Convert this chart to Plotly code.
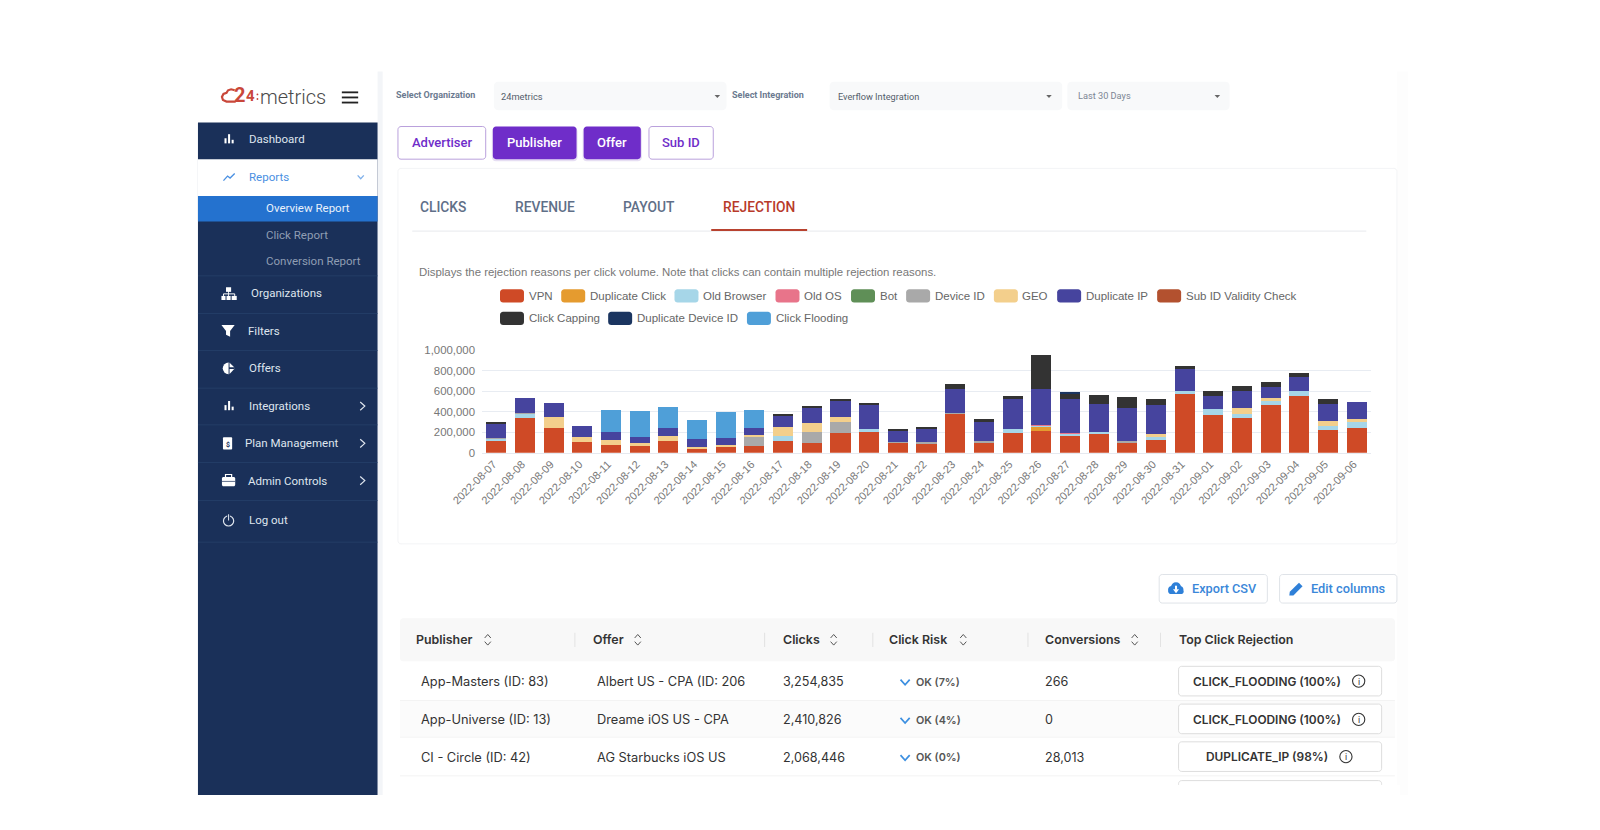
import plotly.graph_objects as go

# ---------- chart data ----------
dates = ["2022-08-%02d" % d for d in range(7, 32)] + ["2022-09-%02d" % d for d in range(1, 7)]
vpn = [120e3,339e3,238e3,104e3,72e3,62e3,117e3,39e3,52e3,62e3,114e3,98e3,189e3,202e3,98e3,91e3,378e3,98e3,189e3,215e3,166e3,179e3,98e3,120e3,570e3,371e3,335e3,463e3,550e3,218e3,241e3]
dup_click = [0,0,0,0,0,0,0,0,0,0,0,0,0,0,0,0,0,0,0,33e3,0,0,0,0,0,0,0,0,0,0,0]
old_browser = [18e3,39e3,0,0,0,0,0,0,0,0,46e3,0,0,26e3,0,0,0,0,39e3,13e3,15e3,23e3,0,29e3,36e3,59e3,46e3,42e3,52e3,42e3,62e3]
old_os = [0,0,0,0,0,0,0,0,0,0,0,0,0,0,0,0,0,0,0,10e3,14e3,0,0,0,0,0,0,0,0,0,0]
bot = [0]*31
device_id = [8e3,6e3,0,0,0,0,0,0,0,94e3,0,101e3,111e3,0,10e3,16e3,10e3,16e3,0,0,0,0,16e3,0,0,0,0,0,0,0,0]
geo = [0,0,107e3,49e3,52e3,29e3,42e3,20e3,23e3,20e3,91e3,91e3,49e3,0,0,0,0,0,0,0,0,0,0,29e3,0,0,52e3,29e3,0,52e3,29e3]
dup_ip = [137e3,147e3,140e3,107e3,81e3,65e3,78e3,75e3,72e3,62e3,111e3,150e3,153e3,235e3,107e3,124e3,231e3,182e3,293e3,349e3,326e3,270e3,322e3,283e3,208e3,124e3,169e3,104e3,134e3,166e3,160e3]
sub_id = [0]*31
capping = [16e3,0,0,0,0,0,0,0,0,0,20e3,13e3,13e3,23e3,16e3,16e3,49e3,36e3,33e3,336e3,55e3,88e3,104e3,59e3,36e3,46e3,46e3,49e3,42e3,42e3,0]
dup_device = [0,0,0,0,0,0,0,0,0,0,0,0,0,0,0,0,0,0,0,0,13e3,0,0,0,0,0,0,0,0,0,0]
flooding = [0,0,0,0,212e3,248e3,212e3,189e3,248e3,176e3,0,0,0,0,0,0,0,0,0,0,0,0,0,0,0,0,0,0,0,0,0]

series_names = ["VPN","Duplicate Click","Old Browser","Old OS","Bot","Device ID","GEO","Duplicate IP","Sub ID Validity Check","Click Capping","Duplicate Device ID","Click Flooding"]
series_vals = [vpn,dup_click,old_browser,old_os,bot,device_id,geo,dup_ip,sub_id,capping,dup_device,flooding]
series_cols = ["#cf4a26","#e59b2f","#a6d6e8","#e8748a","#5f8f57","#a9a9a9","#f3cf8c","#46449e","#b3512f","#333333","#1b3560","#4f9fd8"]

# ---------- interface text ----------
side_items = [("Dashboard",244,136.5),("Organizations",246,287.5),("Filters",243,324),("Offers",244,361),("Integrations",244,398),("Plan Management",240,434.5),("Admin Controls",243,471),("Log out",244,510)]
buttons = [("Advertiser",390,476,False),("Publisher",483,565,True),("Offer",572,628,True),("Sub ID",636,699,False)]
tabs = [("CLICKS",434,"#5f6f88"),("REVENUE",534,"#5f6f88"),("PAYOUT",636,"#5f6f88"),("REJECTION",744,"#b83a2a")]
headers = [("Publisher",408,478),("Offer",581,625),("Clicks",767,817),("Click Risk",871,944),("Conversions",1024,1112),("Top Click Rejection",1155,None)]
publishers = ["App-Masters (ID: 83)","App-Universe (ID: 13)","CI - Circle (ID: 42)"]
offers = ["Albert US - CPA (ID: 206","Dreame iOS US - CPA","AG Starbucks iOS US"]
clicks = ["3,254,835","2,410,826","2,068,446"]
risks = ["OK (7%)","OK (4%)","OK (0%)"]
conversions = ["266","0","28,013"]
rejections = ["CLICK_FLOODING (100%)","CLICK_FLOODING (100%)","DUPLICATE_IP (98%)"]

S = 1600/1568
W, H = 1600, 830
def X(x): return x*S/W
def Y(y): return 1-y*S/H

shapes, annos = [], []
NAVY = "#1a3059"

def rect(x0,y0,x1,y1,fill=None,line=None,lw=1,r=0,layer="below"):
    d = dict(type="path",xref="paper",yref="paper",layer=layer,
             fillcolor=fill or "rgba(0,0,0,0)",line=dict(color=line or "rgba(0,0,0,0)",width=lw if line else 0))
    if r:
        c = 0.45*r
        d["path"] = (f"M{X(x0+r)},{Y(y0)} L{X(x1-r)},{Y(y0)} C{X(x1-c)},{Y(y0)} {X(x1)},{Y(y0+c)} {X(x1)},{Y(y0+r)} "
                     f"L{X(x1)},{Y(y1-r)} C{X(x1)},{Y(y1-c)} {X(x1-c)},{Y(y1)} {X(x1-r)},{Y(y1)} "
                     f"L{X(x0+r)},{Y(y1)} C{X(x0+c)},{Y(y1)} {X(x0)},{Y(y1-c)} {X(x0)},{Y(y1-r)} "
                     f"L{X(x0)},{Y(y0+r)} C{X(x0)},{Y(y0+c)} {X(x0+c)},{Y(y0)} {X(x0+r)},{Y(y0)} Z")
    else:
        d["path"] = f"M{X(x0)},{Y(y0)} L{X(x1)},{Y(y0)} L{X(x1)},{Y(y1)} L{X(x0)},{Y(y1)} Z"
    shapes.append(d)

def poly(pts,fill=None,line=None,lw=1.5,close=False,layer="below"):
    p = "M"+" L".join(f"{X(a)},{Y(b)}" for a,b in pts)+(" Z" if close else "")
    shapes.append(dict(type="path",path=p,xref="paper",yref="paper",layer=layer,
                       fillcolor=fill or "rgba(0,0,0,0)",line=dict(color=line or "rgba(0,0,0,0)",width=lw if line else 0)))

def circ(cx,cy,r,fill=None,line=None,lw=1.2,layer="below"):
    shapes.append(dict(type="circle",xref="paper",yref="paper",layer=layer,x0=X(cx-r),x1=X(cx+r),y0=Y(cy+r),y1=Y(cy-r),
                       fillcolor=fill or "rgba(0,0,0,0)",line=dict(color=line or "rgba(0,0,0,0)",width=lw if line else 0)))

def text(x,y,s,size=12,color="#333",anchor="left",font="Roboto",weight="normal"):
    annos.append(dict(x=X(x),y=Y(y),xref="paper",yref="paper",text=s,showarrow=False,xanchor=anchor,yanchor="middle",
                      font=dict(family=font,size=size,color=color,weight=weight),borderpad=0,borderwidth=0))

def chevron(cx,cy,w,h,color,lw=1.3,up=False):
    sgn = -1 if up else 1
    poly([(cx-w,cy-h*sgn),(cx,cy+h*sgn),(cx+w,cy-h*sgn)],line=color,lw=lw)

def tri(cx,cy,w,h,color):
    poly([(cx-w,cy-h),(cx+w,cy-h),(cx,cy+h)],fill=color,close=True)

# frame lines
rect(370,70,375,779,fill="#f3f5f8")
rect(1369,70,1380,779,fill="#fdfdfd")

# sidebar
rect(194,120,370,779,fill=NAVY)
rect(194,156,370,192,fill="#ffffff")
rect(194,192,370,217,fill="#2472cf")
for y in [270,307,343,380,416,453,490,531]:
    rect(194,y,370,y+0.7,fill="#26406b")

# logo: cloud outline, then the digits and the word
LOGO = "#c9473a"
poly([(231,99.5),(222,99.5),(218.5,98),(217.5,95),(219,92),(222,91),(223.5,88.5),(226.5,87.5),(230,88.5)],line=LOGO,lw=2.2)
text(229.5,93.5,"<b>2</b>",20,LOGO)
text(241.5,94.5,"<b>4</b>",15,LOGO)
circ(252.3,92.5,0.9,fill=LOGO); circ(252.3,97,0.9,fill=LOGO)
text(254.5,95.5,"metrics",20,"#4a4a4a",font="Roboto",weight=300)
for y in [90.5,95.5,100.5]:
    rect(335,y-0.9,351,y+0.9,fill="#222222")

LIGHT = "#dfe5ee"
for name,x,y in side_items:
    text(x,y,name,11.5,LIGHT)
text(244,173,"Reports",11.5,"#4a90e2")
text(261,204,"Overview Report",11.5,"#e9f1fb")
text(261,230,"Click Report",11.5,"#8f9db3")
text(261,256,"Conversion Report",11.5,"#8f9db3")

# sidebar icons
for x0,y0 in [(220,136.5),(220,398)]:
    rect(x0,y0-1,x0+2,y0+4,fill="#fff"); rect(x0+3.5,y0-5,x0+5.5,y0+4,fill="#fff"); rect(x0+7,y0+0.5,x0+9,y0+4,fill="#fff")
poly([(219,177),(223,172.5),(225.5,174.5),(230,170)],line="#4a90e2",lw=1.3)
chevron(353.5,173.5,3,1.7,"#7fb0ea")
for y in [398,434.5,471]:
    poly([(353,y-4),(357.5,y),(353,y+4)],line="#dfe5ee",lw=1.2)
# organizations
rect(221.5,281.5,226.5,286,fill="#fff")
rect(217,290,221,294,fill="#fff"); rect(222,290,226,294,fill="#fff"); rect(227,290,232,294,fill="#fff")
poly([(219,290),(219,288),(230,288),(230,290)],line="#fff",lw=1)
rect(223.6,285,224.4,290,fill="#fff")
# filter
poly([(217,318.5),(230,318.5),(225.5,324.5),(225.5,330),(221.5,328),(221.5,324.5)],fill="#fff",close=True)
# offers pie
circ(224,361,5.7,fill="#fff")
rect(224,355,230,367,fill=NAVY)
poly([(225,360),(225,355.5),(229.5,360)],fill="#fff",close=True)
poly([(225,361.5),(229.5,361.5),(225,366.5)],fill="#fff",close=True)
# plan
rect(218.5,428.5,227.5,440.5,fill="#fff",r=1)
text(223,436,"<b>$</b>",7,NAVY,anchor="center")
# admin toolbox
rect(217.5,467.5,230.5,476.5,fill="#fff",r=1.5)
rect(221,465,227,468,line="#fff",lw=1.2)
rect(217.5,471.3,230.5,472,fill=NAVY)
# logout
circ(224,510.5,5,line="#dfe5ee",lw=1.2)
rect(222.7,503,225.3,510,fill=NAVY)
rect(223.5,504,224.5,510,fill="#dfe5ee")

# selects
text(388,93.5,"<b>Select Organization</b>",9,"#6b7a90")
rect(484,80,712,108,fill="#f8f9fa",r=4)
text(491,94.5,"24metrics",9.3,"#555e6b")
tri(703,94.5,2.7,1.5,"#666")
text(717,93.5,"<b>Select Integration</b>",9,"#6b7a90")
rect(813,80,1041,108,fill="#f8f9fa",r=4)
text(821,94.5,"Everflow Integration",9.2,"#555e6b")
tri(1028,94.5,2.7,1.5,"#666")
rect(1046,80,1205,108,fill="#f8f9fa",r=4)
text(1056,94,"Last 30 Days",9.2,"#7c8694")
tri(1193,94.5,2.7,1.5,"#666")

# buttons
for name,x0,x1,on in buttons:
    if on:
        rect(x0-1,125,x1+1,158,fill="#e6def3",r=4)
        rect(x0,124,x1,156,fill="#6f2dc9",r=3)
    else:
        rect(x0,124,x1,156,fill="#ffffff",line="#b9a0dc",lw=1,r=3)
    text((x0+x1)/2,140,name,13,"#ffffff" if on else "#6f2dc9",anchor="center",weight=500)

# chart card
rect(390,165,1369,533,fill="#ffffff",line="#f3f4f6",lw=1,r=3)
for name,x,c in tabs:
    text(x,203,name,13.8,c,anchor="center",weight=500)
rect(404,226,1339,227,fill="#eceef1")
rect(697,224.5,791,226.5,fill="#b8422f")
text(411,267,"Displays the rejection reasons per click volume. Note that clicks can contain multiple rejection reasons.",11.4,"#777777",font="Liberation Sans")

# legend (two rows, same layout as the reference)
legend_pos = [(490,290),(550,290),(661,290),(760,290),(834,290),(888,290),(974,290),(1036,290),(1134,290),(490,312),(596,312),(732,312)]
for (lx,ly),name,col in zip(legend_pos,series_names,series_cols):
    rect(lx,ly-6.5,lx+23.5,ly+6.5,fill=col,r=3)
    text(lx+28,ly,name,11.5,"#666666",font="Liberation Sans")

# export buttons
rect(1136,563,1242,591,fill="#fff",line="#dfe3e8",r=3)
circ(1148.5,578,3.8,fill="#2f80d8"); circ(1156,578,3.8,fill="#2f80d8"); circ(1152.5,575.5,5,fill="#2f80d8")
rect(1145,578,1160,582,fill="#2f80d8",r=2)
poly([(1152.5,581.5),(1149.5,577.5),(1155.5,577.5)],fill="#fff",close=True)
rect(1151.5,574,1153.5,578,fill="#fff")
text(1200,576.5,"Export CSV",12.7,"#3a87d9",anchor="center",weight=500)
rect(1254,563,1369,591,fill="#fff",line="#dfe3e8",r=3)
poly([(1263.5,583.5),(1264,580),(1273,571),(1276.5,574.5),(1267.5,583.5)],fill="#2f80d8",close=True)
text(1322,576.5,"Edit columns",12.8,"#3a87d9",anchor="center",weight=500)

# table
rect(392,606,1367,648,fill="#f8f8f8",r=3)
rect(392,686,1367,722,fill="#fbfbfb")
for y in [686,722,760]:
    rect(392,y,1367,y+0.8,fill="#f0f0f0")
for x in [563,749,855,1007,1137]:
    rect(x,620,x+0.8,634,fill="#dddddd")
TF = "Inter"
for name,x,sx in headers:
    text(x,627,name,12.4,"#333333",font=TF,weight=600)
    if sx:
        chevron(sx,623.5,3,1.7,"#555",lw=1,up=True)
        chevron(sx,630.5,3,1.7,"#555",lw=1)
row_y = [668,705.5,742]
btn_y = [(653,682),(690,719),(727,756)]
info_x = [1331.5,1331.5,1319]
for i,y in enumerate(row_y):
    text(413,y,publishers[i],12.8,"#333333",font=TF)
    text(585,y,offers[i],12.8,"#333333",font=TF)
    text(767,y,clicks[i],12.6,"#333333",font=TF)
    chevron(887,y+0.5,4.5,2.5,"#3c8fe0",lw=1.7)
    text(898,y+0.5,risks[i],10.8,"#555555",font=TF,weight=600)
    text(1024,y,conversions[i],12.6,"#333333",font=TF)
    b0,b1 = btn_y[i]
    rect(1155,b0,1354,b1,fill="#ffffff",line="#dddddd",r=3)
    text(1242,y-0.5,rejections[i],11.9,"#333333",anchor="center",font=TF,weight=600)
    circ(info_x[i],y-0.5,6,line="#333333",lw=1.1)
    text(info_x[i],y-0.5,"i",9,"#333333",anchor="center",font=TF)
rect(1155,765,1354,775,fill="#ffffff",line="#dddddd",r=3)
rect(390,769,1372,779,fill="#ffffff")

# bars
fig = go.Figure()
for name,vals,col in zip(series_names,series_vals,series_cols):
    fig.add_trace(go.Bar(x=dates,y=vals,name=name,marker=dict(color=col,line=dict(width=0)),width=0.7,showlegend=False))

fig.update_layout(
    width=W,height=H,autosize=False,barmode="stack",paper_bgcolor="#ffffff",plot_bgcolor="rgba(0,0,0,0)",
    margin=dict(l=0,r=0,t=0,b=0,autoexpand=False),shapes=shapes,annotations=annos,showlegend=False,
    font=dict(family="Liberation Sans",color="#666666"),
    xaxis=dict(domain=[482/W,1371/W],type="category",tickangle=-45,showgrid=False,showline=True,linecolor="#e6e9ef",linewidth=1,
               ticks="",tickfont=dict(size=11,color="#777777",family="Liberation Sans"),automargin=False,tickmode="array",tickvals=dates,ticktext=dates,
               ticklabelshift=-3),
    yaxis=dict(domain=[1-452.7/H,1-350.3/H],range=[0,1000000],tickmode="array",tickvals=[0,200000,400000,600000,800000,1000000],
               tickformat=",",gridcolor="#e8ecf2",gridwidth=1,zeroline=False,ticks="",showline=False,ticklabelstandoff=6,
               tickfont=dict(size=11.4,color="#777777",family="Liberation Sans"),automargin=False),
)
fig.write_html("out.html",config=dict(displayModeBar=False),
               post_script="document.body.style.margin='0';document.body.style.overflow='hidden';")
